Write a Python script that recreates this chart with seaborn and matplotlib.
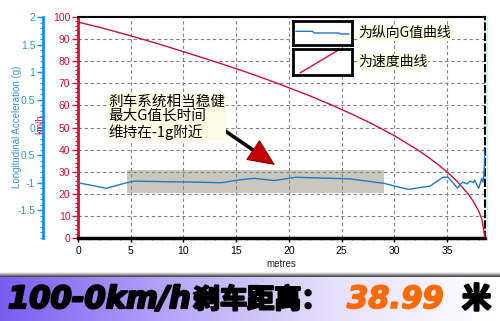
import matplotlib
matplotlib.use('Agg')
import matplotlib.pyplot as plt
import matplotlib.patheffects as pe
import seaborn as sns
import numpy as np
import pandas as pd
from matplotlib.patches import Rectangle
from matplotlib.ticker import MultipleLocator, FixedLocator, FixedFormatter
from matplotlib.lines import Line2D

# ---------------- data ----------------
dist_speed = [0, 2, 4, 6, 8, 10, 12, 14, 16, 18, 20, 22, 24, 26, 28, 30, 32, 33,
              34, 35, 36, 37, 37.5, 38, 38.3, 38.6]
speed_kmh = [97.7, 95.4, 92.8, 90.1, 87.3, 84.3, 81.3, 78.2, 75.0, 71.6, 68.0, 64.3,
             60.3, 56.0, 51.4, 46.3, 40.5, 37.3, 33.8, 29.9, 25.4, 20.0, 16.5, 12.2,
             8.6, 0.0]

dist_g = [0, 2.7, 4.6, 5.4, 7.9, 11.5, 13.6, 15.2, 16.7, 18.6, 20.7, 22.1, 25.8,
          29.0, 31.3, 33.4, 34.6, 35.1, 36.0, 36.2, 36.5, 36.9, 37.2, 37.5, 37.6,
          38.0, 38.3, 38.4, 38.5, 38.6]
accel_g = [-1.0, -1.10, -1.0, -0.97, -0.98, -0.99, -1.0, -0.95, -0.92, -0.96, -0.90,
           -0.91, -0.93, -1.01, -1.12, -1.06, -0.90, -0.90, -1.10, -1.04, -0.99,
           -1.02, -0.97, -1.0, -0.95, -1.10, -0.92, -0.99, -0.88, -0.41]

x_ticks = [0, 5, 10, 15, 20, 25, 30, 35]
speed_ticks = [0, 10, 20, 30, 40, 50, 60, 70, 80, 90, 100]
g_ticks = [-1.5, -1, -0.5, 0, 0.5, 1, 1.5, 2]
g_tick_labels = ['-1.5', '-1', '0.5', '0', '0.5', '1', '1.5', '2']

legend_labels = ['为纵向G值曲线', '为速度曲线']
note_text = '刹车系统相当稳健\n最大G值长时间\n维持在-1g附近'
banner_parts = ['100-0km/h', '刹车距离：', '38.99', '米']

# ---------------- style ----------------
sns.set_theme(style='white')
plt.rcParams['font.family'] = ['Liberation Sans', 'Noto Sans CJK SC', 'DejaVu Sans']
CJK = ['Noto Sans CJK SC', 'DejaVu Sans']

RED = '#cc1133'
BLUE_LINE = '#1f78c8'
BLUE_AX = '#1a8cff'
BLUE_TXT = '#3b8fd6'

W, H = 500, 321
fig = plt.figure(figsize=(W / 100, H / 100), dpi=100)
fig.patch.set_facecolor('white')

def fx(px):
    return px / W

def fy(py):
    return 1 - py / H

ax = fig.add_axes([fx(78), fy(238), fx(485 - 78), (238 - 17) / H])
ax.set_facecolor('white')

df_speed = pd.DataFrame({'m': dist_speed, 'v': speed_kmh})
sns.lineplot(data=df_speed, x='m', y='v', ax=ax, color=RED, lw=1.0,
             sort=False, estimator=None, zorder=3)
ax.set_xlim(0, 38.6)
ax.set_ylim(0, 100)
ax.set_xticks(x_ticks)
ax.set_yticks(speed_ticks)
ax.xaxis.set_minor_locator(MultipleLocator(1))
ax.yaxis.set_minor_locator(MultipleLocator(2))
ax.grid(True, which='major', color='#808080', ls=(0, (3, 2.5)), lw=0.8)
ax.set_axisbelow('line')
ax.add_patch(Rectangle((4.6, 20.4), 24.4, 10.4, fc='#c8c8bd', ec='none', zorder=1))

ax.spines['left'].set_color(RED)
ax.spines['left'].set_linewidth(2)
ax.spines['bottom'].set_color('black')
ax.spines['bottom'].set_linewidth(2.5)
ax.spines['top'].set_color('black')
ax.spines['top'].set_linewidth(1.5)
ax.spines['right'].set_color('black')
ax.spines['right'].set_linewidth(1.5)
ax.spines['right'].set_linestyle((0, (3, 2)))

ax.tick_params(axis='y', which='major', left=True, direction='out', length=4, width=1,
               color=RED, labelcolor=RED, labelsize=7.5, pad=1.5)
ax.tick_params(axis='y', which='minor', left=True, direction='out', length=2, width=0.8,
               color=RED)
ax.tick_params(axis='x', which='major', bottom=True, direction='out', length=3, width=1,
               color='black', labelcolor='black', labelsize=7.5, pad=3)
ax.tick_params(axis='x', which='minor', bottom=True, direction='out', length=1.5,
               width=0.6, color='#555555')
ax.set_xlabel('metres', fontsize=7, labelpad=2, color='#222222')
ax.set_ylabel('')

# ---- acceleration axis ----
ax2 = ax.twinx()
df_g = pd.DataFrame({'m': dist_g, 'g': accel_g})
sns.lineplot(data=df_g, x='m', y='g', ax=ax2, color=BLUE_LINE, lw=1.0,
             sort=False, estimator=None)
ax2.set_xlim(0, 38.6)
ax2.set_ylim(-2, 2)
ax2.grid(False)
ax2.yaxis.tick_left()
ax2.yaxis.set_major_locator(FixedLocator(g_ticks))
ax2.yaxis.set_major_formatter(FixedFormatter(g_tick_labels))
ax2.yaxis.set_minor_locator(MultipleLocator(0.1))
for s in ['right', 'top', 'bottom']:
    ax2.spines[s].set_visible(False)
ax2.spines['left'].set_position(('outward', 25.2))
ax2.spines['left'].set_color(BLUE_AX)
ax2.spines['left'].set_linewidth(2)
ax2.tick_params(axis='y', which='major', left=True, right=False, direction='out',
                length=4, width=1, color=BLUE_AX, labelcolor=BLUE_TXT,
                labelsize=7.5, pad=1.5)
ax2.tick_params(axis='y', which='minor', left=True, right=False, direction='out',
                length=2, width=0.7, color=BLUE_AX)
ax2.set_ylabel('')
ax2.set_xlabel('')

fig.text(fx(17), fy(127), 'Longitudinal Acceleration (g)', rotation=90,
         ha='center', va='center', fontsize=7, color=BLUE_TXT)
fig.text(fx(40), fy(124), 'km/h', rotation=90, ha='center', va='center',
         fontsize=6.5, color=RED)

# right edge cyan line
fig.add_artist(Line2D([fx(487), fx(487)], [fy(238), fy(17)], color='#b8f0ff', lw=1))

# ---- legend boxes ----
lg1 = fig.add_axes([fx(293), fy(45), fx(59), 24 / H])
lg1.plot([0.05, 0.33, 0.36, 0.78, 0.80, 0.95], [0.57, 0.57, 0.5, 0.5, 0.46, 0.46],
         color=BLUE_LINE, lw=1)
lg2 = fig.add_axes([fx(293), fy(75), fx(59), 26 / H])
lg2.plot([0.12, 0.80], [0.08, 1.0], color=RED, lw=1)
for a in (lg1, lg2):
    a.set_xlim(0, 1)
    a.set_ylim(0, 1)
    a.set_xticks([])
    a.set_yticks([])
    a.set_facecolor('white')
    for s in a.spines.values():
        s.set_color('black')
        s.set_linewidth(2)
        s.set_visible(True)

fig.text(fx(358), fy(33), legend_labels[0], ha='left', va='center', fontsize=10,
         family=CJK, color='black',
         bbox=dict(fc='#ffffe6', ec='none', pad=0.6))
fig.text(fx(358), fy(62), legend_labels[1], ha='left', va='center', fontsize=10,
         family=CJK, color='black',
         bbox=dict(fc='#ffffe6', ec='none', pad=0.6))

# ---- note + arrow ----
fig.text(fx(108), fy(117), note_text, ha='left', va='center', fontsize=10.5,
         family=CJK, color='black', linespacing=1.05,
         bbox=dict(fc='#fdfde6', ec='none', pad=0.8))
# shaft (figure pixels, origin bottom-left)
ax.annotate('', xy=(256, H - 152), xytext=(218, H - 126),
            xycoords='figure pixels', textcoords='figure pixels',
            arrowprops=dict(arrowstyle='-', color='black', lw=2.6,
                            shrinkA=0, shrinkB=0))
# red head
ax.annotate('', xy=(275, H - 165), xytext=(253, H - 150),
            xycoords='figure pixels', textcoords='figure pixels',
            arrowprops=dict(arrowstyle='-|>,head_length=1.0,head_width=0.45',
                            mutation_scale=18, fc='#c40000', ec='#8a0000', lw=0.8,
                            shrinkA=0, shrinkB=0))

# ---- banner ----
shadow = fig.add_axes([0, fy(277), 1, 5 / H])
sgrad = np.linspace(0, 1, 20).reshape(-1, 1)
shadow.imshow(sgrad, aspect='auto', cmap=matplotlib.colors.LinearSegmentedColormap.from_list(
    'sh', ['#ffffff', '#3a3a3a']), extent=[0, 1, 0, 1], origin='upper')
shadow.axis('off')

banner = fig.add_axes([0, 0, 1, 44 / H])
grad = np.linspace(0, 1, 256).reshape(1, -1)
bcmap = matplotlib.colors.LinearSegmentedColormap.from_list(
    'bn', ['#7a5cf0', '#b6a4f7', '#e6e0fc', '#ffffff'])
banner.imshow(grad, aspect='auto', cmap=bcmap, extent=[0, 1, 0, 1])
banner.axis('off')

thick_k = [pe.withStroke(linewidth=1.6, foreground='black')]
thick_o = [pe.withStroke(linewidth=1.2, foreground='#ff6a00')]
base_y = fy(308)
fig.text(fx(8), base_y, banner_parts[0], ha='left', va='baseline', fontsize=22,
         family=['DejaVu Sans'], weight='bold', style='italic', color='black',
         path_effects=thick_k)
fig.text(fx(193), base_y, banner_parts[1], ha='left', va='baseline', fontsize=19.5,
         family=CJK, weight='heavy', color='black', path_effects=thick_k)
fig.text(fx(347), base_y, banner_parts[2], ha='left', va='baseline', fontsize=22,
         family=['DejaVu Sans'], weight='bold', style='italic', color='#ff6a00',
         path_effects=thick_o)
fig.text(fx(462), base_y, banner_parts[3], ha='left', va='baseline', fontsize=21,
         family=CJK, weight='heavy', color='black', path_effects=thick_k)

fig.savefig('out.png', dpi=100)
